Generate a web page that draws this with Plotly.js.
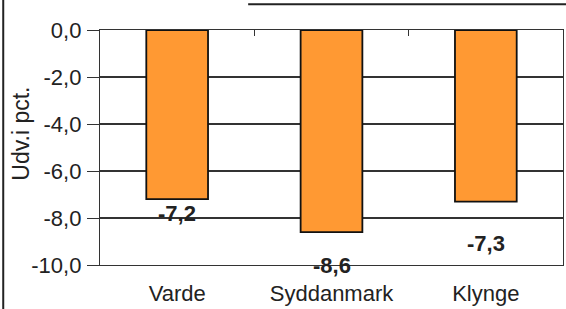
<!DOCTYPE html>
<html>
<head>
<meta charset="utf-8">
<script src="https://cdn.plot.ly/plotly-3.0.1.min.js"></script>
<style>html,body{margin:0;padding:0;background:#fff;}#chart{width:566px;height:309px;}</style>
</head>
<body>
<div id="chart"></div>
<script>
const categories = ["Varde", "Syddanmark", "Klynge"];
const values = [-7.2, -8.6, -7.3];
const valueLabels = ["-7,2", "-8,6", "-7,3"];
const tickValues = [0, -2, -4, -6, -8, -10];
const tickLabels = ["0,0", "-2,0", "-4,0", "-6,0", "-8,0", "-10,0"];
const yTitle = "Udv.i pct.";

const labelShift = [-14, -33, -42];
const font = "Liberation Sans, Arial, sans-serif";

const trace = {
  type: "bar",
  x: categories,
  y: values,
  width: 0.4,
  marker: {color: "#FF9933", line: {color: "#111", width: 1.8}},
  hoverinfo: "skip"
};
const topTicks = {
  type: "scatter", x: categories, y: values, xaxis: "x2", yaxis: "y",
  mode: "none", hoverinfo: "skip", showlegend: false
};

const annotations = values.map((v, i) => ({
  x: categories[i], y: v, xref: "x", yref: "y",
  text: "<b>" + valueLabels[i] + "</b>", showarrow: false,
  yanchor: "middle", yshift: labelShift[i],
  font: {family: font, size: 22, color: "#222"}
}));
annotations.push({
  xref: "paper", yref: "paper", x: -0.17, y: 0.56, xanchor: "center", yanchor: "middle",
  text: yTitle, textangle: -90, showarrow: false,
  font: {family: font, size: 23, color: "#222"}
});

const layout = {
  width: 566, height: 309,
  margin: {l: 100, r: 3, t: 30, b: 44},
  paper_bgcolor: "#fff", plot_bgcolor: "#fff",
  showlegend: false,
  xaxis: {
    type: "category", range: [-0.5, 2.5],
    showline: true, mirror: true, linecolor: "#333", linewidth: 1.2,
    ticks: "", showgrid: false, zeroline: false,
    tickfont: {family: font, size: 22, color: "#222"},
    ticklabelstandoff: 8
  },
  xaxis2: {
    overlaying: "x", side: "top", anchor: "y", range: [-0.5, 2.5],
    tickvals: [0.5, 1.5], ticks: "inside", ticklen: 6, tickcolor: "#333",
    showticklabels: false, showgrid: false, zeroline: false, showline: false
  },
  yaxis: {
    range: [-10, 0], tickvals: tickValues, ticktext: tickLabels,
    showline: true, mirror: true, linecolor: "#333", linewidth: 1.2,
    ticks: "outside", ticklen: 12, tickcolor: "#333",
    showgrid: true, gridcolor: "#333", gridwidth: 1.2, zeroline: false,
    tickfont: {family: font, size: 22, color: "#222"},
    ticklabelstandoff: 1
  },
  annotations: annotations,
  shapes: [
    {type: "line", xref: "paper", yref: "paper", x0: -0.209, x1: -0.209, y0: 1.14, y1: -0.2, line: {color: "#222", width: 2}},
    {type: "line", xref: "paper", yref: "paper", x0: 0.32, x1: 1.01, y0: 1.11, y1: 1.11, line: {color: "#222", width: 2}}
  ]
};

Plotly.newPlot("chart", [trace, topTicks], layout, {staticPlot: true, displayModeBar: false});
</script>
</body>
</html>
